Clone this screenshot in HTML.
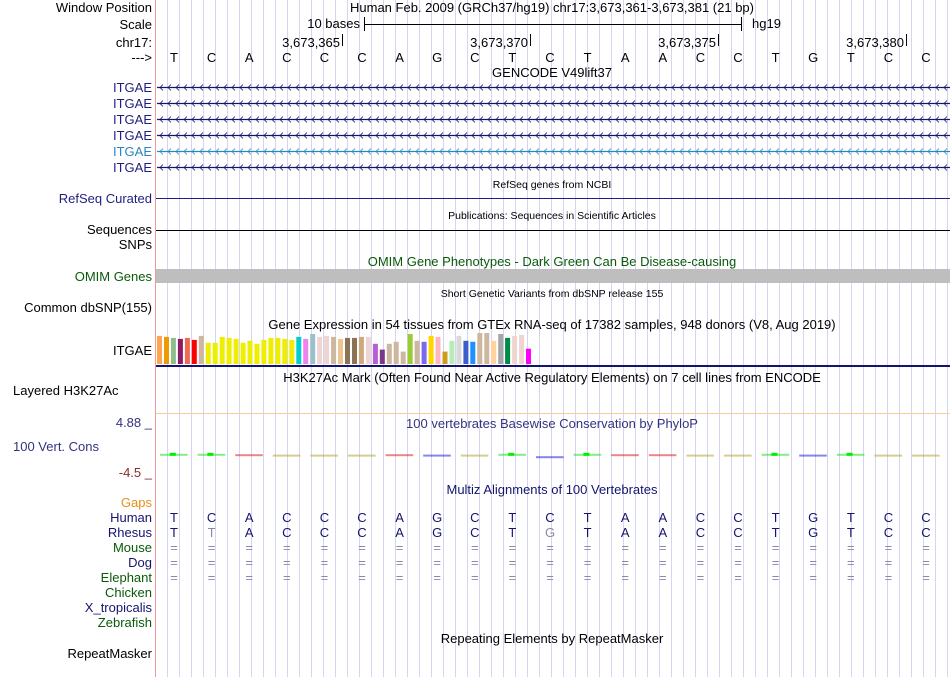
<!DOCTYPE html>
<html><head><meta charset="utf-8">
<style>
html,body{margin:0;padding:0;background:#fff;}
body{width:950px;height:677px;overflow:hidden;font-family:"Liberation Sans",sans-serif;}
svg text{font-family:"Liberation Sans",sans-serif;}
</style></head>
<body>
<svg id="g" width="950" height="677" viewBox="0 0 950 677" xmlns="http://www.w3.org/2000/svg">
<g id="grid"></g>
<line x1="155.5" y1="0" x2="155.5" y2="677" stroke="#f29a9a"/>
<g font-size="13" text-anchor="end">
<text x="152" y="12" fill="#000">Window Position</text>
<text x="152" y="29" fill="#000">Scale</text>
<text x="152" y="47" fill="#000">chr17:</text>
<text x="152" y="62" fill="#000">---&gt;</text>
<text x="152" y="92" fill="#1f1f80">ITGAE</text>
<text x="152" y="108" fill="#1f1f80">ITGAE</text>
<text x="152" y="124" fill="#1f1f80">ITGAE</text>
<text x="152" y="140" fill="#1f1f80">ITGAE</text>
<text x="152" y="156" fill="#2b86c0">ITGAE</text>
<text x="152" y="172" fill="#1f1f80">ITGAE</text>
<text x="152" y="203" fill="#1f1f80">RefSeq Curated</text>
<text x="152" y="234" fill="#000">Sequences</text>
<text x="152" y="249" fill="#000">SNPs</text>
<text x="152" y="281" fill="#0a5a0a">OMIM Genes</text>
<text x="152" y="312" fill="#000">Common dbSNP(155)</text>
<text x="152" y="355" fill="#000">ITGAE</text>
<text x="13" y="395" fill="#000" text-anchor="start">Layered H3K27Ac</text>
<text x="152" y="427" fill="#333380">4.88 _</text>
<text x="13" y="451" fill="#333380" text-anchor="start">100 Vert. Cons</text>
<text x="152" y="477" fill="#8a2a2a">-4.5 _</text>
<text x="152" y="507" fill="#e8901a">Gaps</text>
<text x="152" y="522" fill="#14146e">Human</text>
<text x="152" y="537" fill="#14146e">Rhesus</text>
<text x="152" y="552" fill="#0a5a0a">Mouse</text>
<text x="152" y="567" fill="#14146e">Dog</text>
<text x="152" y="582" fill="#0a5a0a">Elephant</text>
<text x="152" y="597" fill="#0a5a0a">Chicken</text>
<text x="152" y="612" fill="#14146e">X_tropicalis</text>
<text x="152" y="627" fill="#0a5a0a">Zebrafish</text>
<text x="152" y="658" fill="#000">RepeatMasker</text>
</g>
<g font-size="13" text-anchor="middle">
<text x="552" y="12">Human Feb. 2009 (GRCh37/hg19)   chr17:3,673,361-3,673,381 (21 bp)</text>
<text x="552" y="77">GENCODE V49lift37</text>
<text x="552" y="188" font-size="10.5">RefSeq genes from NCBI</text>
<text x="552" y="219" font-size="10.5">Publications: Sequences in Scientific Articles</text>
<text x="552" y="266" fill="#0a5a0a">OMIM Gene Phenotypes - Dark Green Can Be Disease-causing</text>
<text x="552" y="297" font-size="10.5">Short Genetic Variants from dbSNP release 155</text>
<text x="552" y="329">Gene Expression in 54 tissues from GTEx RNA-seq of 17382 samples, 948 donors (V8, Aug 2019)</text>
<text x="552" y="382">H3K27Ac Mark (Often Found Near Active Regulatory Elements) on 7 cell lines from ENCODE</text>
<text x="552" y="428" fill="#333380">100 vertebrates Basewise Conservation by PhyloP</text>
<text x="552" y="494" fill="#14146e">Multiz Alignments of 100 Vertebrates</text>
<text x="552" y="643">Repeating Elements by RepeatMasker</text>
</g>
<g>
<text x="360" y="28" font-size="13" text-anchor="end">10 bases</text>
<line x1="364.5" y1="17" x2="364.5" y2="31" stroke="#000"/>
<line x1="741.5" y1="17" x2="741.5" y2="31" stroke="#000"/>
<line x1="364" y1="24.5" x2="741" y2="24.5" stroke="#000"/>
<text x="752" y="28" font-size="13">hg19</text>
</g>
<g id="ruler"></g>
<g id="bases"></g>
<g id="genes"></g>
<line x1="156" y1="198.5" x2="950" y2="198.5" stroke="#1f1f80"/>
<line x1="156" y1="230.5" x2="950" y2="230.5" stroke="#000"/>
<rect x="156" y="269" width="794" height="14" fill="#bebebe"/>
<g id="gtex"></g>
<rect x="156" y="365" width="794" height="2" fill="#14146e"/>
<line x1="156" y1="413.5" x2="950" y2="413.5" stroke="#f5cf95"/>
<g id="cons"></g>
<g id="maf" font-size="13" text-anchor="middle"></g>
</svg>
<script>
const bases = ["T","C","A","C","C","C","A","G","C","T","C","T","A","A","C","C","T","G","T","C","C"];
const rhesus = ["T","T","A","C","C","C","A","G","C","T","G","T","A","A","C","C","T","G","T","C","C"];
const rulerLabels = ["3,673,365","3,673,370","3,673,375","3,673,380"];
const rulerBaseIdx = [4,9,14,19];
const consColors = ["#22dd22","#22dd22","#e02020","#b0a830","#b0a830","#b0a830","#e02020","#2020e0","#b0a830","#22dd22","#2020e0","#22dd22","#e02020","#e02020","#b0a830","#b0a830","#22dd22","#2020e0","#22dd22","#b0a830","#b0a830"];
const consScores = [0.3,0.3,0.2,0.1,0.1,0.1,0.2,0.1,0.1,0.3,-0.3,0.3,0.2,0.2,0.1,0.1,0.3,0.1,0.3,0.1,0.1];
const gtexValues = [86,83,80,77,80,74,86,65,65,83,80,77,65,71,62,74,80,80,77,74,83,77,92,83,86,83,77,80,80,83,83,62,44,62,68,38,92,71,68,86,83,38,71,86,71,68,95,95,71,92,80,86,89,47];
const gtexColors = ["#FFA54F","#EE9A00","#8FBC8F","#8B1C62","#EE6A50","#FF0000","#CDB79E","#EEEE00","#EEEE00","#EEEE00","#EEEE00","#EEEE00","#EEEE00","#EEEE00","#EEEE00","#EEEE00","#EEEE00","#EEEE00","#EEEE00","#EEEE00","#00CED1","#EE82EE","#9AC0CD","#EED5D2","#EED5D2","#CDB79E","#EEC591","#8B7355","#8B7355","#CDAA7D","#EED5D2","#B460D3","#7A378B","#CDB79E","#CDB79E","#CDB79E","#9ACD32","#CDB79E","#7B68EE","#FFD700","#FFB6C1","#CD9B1D","#B4EEB4","#D9D9D9","#3A5FCD","#1E90FF","#CDB79E","#CDB79E","#FFD39B","#A6A6A6","#008B45","#EED5D2","#EED5D2","#FF00FF"];

const NS="http://www.w3.org/2000/svg";
function mk(tag, attrs, parent, txt){const e=document.createElementNS(NS,tag);for(const k in attrs)e.setAttribute(k,attrs[k]);if(txt!==undefined)e.textContent=txt;parent.appendChild(e);return e;}
const BW=37.6;
const bx = i => 174 + BW*i;

const grid=document.getElementById('grid');
for(let x=167;x<950;x+=12){const l=mk('line',{x1:x+.5,y1:0,x2:x+.5,y2:677,stroke:'#d4d4f4'},grid);

}

const ruler=document.getElementById('ruler');
rulerLabels.forEach((lab,k)=>{const x=Math.round(bx(rulerBaseIdx[k])+BW/2-1);
const t=mk('text',{x:x-2,y:47,'font-size':13,'text-anchor':'end'},ruler,lab);


mk('line',{x1:x+.5,y1:34,x2:x+.5,y2:46,stroke:'#000'},ruler);});

const bg=document.getElementById('bases');
bases.forEach((b,i)=>{const t=mk('text',{x:bx(i),y:62,'font-size':13,'text-anchor':'middle'},bg,b);

});

const genes=document.getElementById('genes');
const gy=[87,103,119,135,151,167];
gy.forEach((y,r)=>{const c=r===4?'#2b86c0':'#14146e';
const g=mk('g',{},genes);


mk('line',{x1:157,y1:y+.5,x2:950,y2:y+.5,stroke:c,'stroke-width':1.3},g);
let d='';for(let x=160;x<950;x+=8){d+=`M${x+3},${y-2.5}L${x},${y+.5}L${x+3},${y+3.5}`;}
mk('path',{d:d,stroke:c,fill:'none','stroke-width':0.8},g);});

const gtex=document.getElementById('gtex');
const base=364, step=(532-156)/54;
const yS=v=>v*31/95;
gtexValues.forEach((v,i)=>{const h=yS(v);
const r=mk('rect',{x:(157+step*i).toFixed(1),y:(base-h).toFixed(1),width:5,height:h.toFixed(1),fill:gtexColors[i]},gtex);

});

const cons=document.getElementById('cons');
const cy=v=>455-v*4;
consScores.forEach((v,i)=>{const x=bx(i)-14, w=BW-10, y=cy(v);
const g=mk('g',{},cons);


mk('rect',{x:x,y:y,width:w,height:2,fill:consColors[i],opacity:0.55},g);
if(consColors[i]==='#22dd22')mk('rect',{x:x+w/2-4,y:y-1,width:6,height:3,fill:'#00ee00'},g);});

const maf=document.getElementById('maf');
bases.forEach((b,i)=>{const x=bx(i);
let t=mk('text',{x:x,y:522,fill:'#14146e'},maf,b);


t=mk('text',{x:x,y:537,fill:rhesus[i]===b?'#14146e':'#8a8aa8'},maf,rhesus[i]);


[552,567,582].forEach(y=>{const e=mk('text',{x:x,y:y,fill:'#8a8aa8'},maf,'=');

});});
</script>
</body></html>
